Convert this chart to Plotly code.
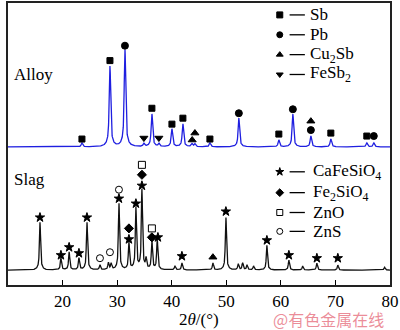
import numpy as np
import plotly.graph_objects as go

# ---------------- data ----------------
# Alloy pattern: peak positions (2theta) and heights above baseline (arb. units)
alloy_peak_pos = [23.55, 28.68, 31.43, 34.9, 36.37, 37.65, 40.04, 42.05, 43.7, 44.25,
                  47.0, 52.3, 59.63, 62.2, 65.5, 69.16, 75.75, 77.03]
alloy_peak_h = [4, 81, 98, 3, 33, 3, 18, 23, 3, 3,
                4, 29, 7, 33, 11, 8, 4, 4]
alloy_base = 139

# Slag pattern
slag_peak_pos = [15.86, 19.7, 21.2, 23.0, 24.47, 26.85, 28.4, 28.9, 30.33, 32.16, 33.44,
                 34.54, 35.3, 36.37, 37.35, 40.6, 41.87, 47.55, 49.93, 52.2, 53.0, 53.8,
                 55.0, 57.44, 61.47, 64.0, 66.6, 70.44, 79.0]
slag_peak_h = [48, 12, 18, 12, 48, 5, 7, 6, 67, 27, 62,
               80, 10, 28, 30, 4, 7, 7, 53, 6, 7, 5,
               4, 25, 10, 4, 7, 5, 3]
slag_base = 15

# Phase markers (2theta, height)
sb_x = [23.55, 28.68, 36.37, 40.04, 42.05, 47.0, 59.63, 69.16, 75.75]
sb_y = [147, 226, 178, 162, 168, 147, 152, 153, 150]
pb_x = [31.43, 52.3, 62.2, 65.5, 77.03]
pb_y = [241, 173, 177, 156, 150]
cu2sb_x = [43.75, 44.25, 65.5, 47.55]
cu2sb_y = [146, 153, 165, 28]
fesb2_x = [34.9, 37.65]
fesb2_y = [148, 148]

cafesio4_x = [15.86, 19.7, 21.2, 23.0, 24.47, 30.33, 32.16, 33.44, 34.54, 37.47,
              41.87, 49.93, 57.44, 61.47, 66.6, 70.44]
cafesio4_y = [68, 30, 38, 32, 68, 87, 46, 82, 100, 48,
              29, 74, 45, 30, 27, 27]
fe2sio4_x = [32.16, 34.54, 36.37]
fe2sio4_y = [57, 111, 48]
zno_x = [34.54, 36.37]
zno_y = [121, 57]
zns_x = [26.85, 28.68, 30.33]
zns_y = [27, 33, 96]

alloy_legend = ["Sb", "Pb", "Cu<sub>2</sub>Sb", "FeSb<sub>2</sub>"]
alloy_legend_sym = ["square", "circle", "triangle-up", "triangle-down"]
alloy_legend_y = [272, 252, 232, 212]
slag_legend = ["CaFeSiO<sub>4</sub>", "Fe<sub>2</sub>SiO<sub>4</sub>", "ZnO", "ZnS"]
slag_legend_sym = ["star", "diamond", "square-open", "circle-open"]
slag_legend_y = [114, 93, 73, 54]

x_ticks = [10, 20, 30, 40, 50, 60, 70, 80]

# ---------------- build profiles ----------------
x = np.arange(10, 80.001, 0.02)


def profile(pos, h, base, w):
    y = np.full_like(x, float(base))
    for p, a in zip(pos, h):
        g = np.exp(-4 * np.log(2) * ((x - p) / w) ** 2)
        l = 1 / (1 + 4 * ((x - p) / (w * 2.2)) ** 2)
        y += a * (0.65 * g + 0.35 * l)
    return y


alloy_y = profile(alloy_peak_pos, alloy_peak_h, alloy_base, 0.28)
slag_y = profile(slag_peak_pos, slag_peak_h, slag_base, 0.22)

serif = "Liberation Serif, Times New Roman, serif"
fig = go.Figure()
fig.add_trace(go.Scatter(x=x, y=alloy_y, mode="lines",
                         line=dict(color="#1f1fe0", width=1.3), hoverinfo="skip"))
fig.add_trace(go.Scatter(x=x, y=slag_y, mode="lines",
                         line=dict(color="#111111", width=1.3), hoverinfo="skip"))


def mk(xs, ys, sym, size):
    fig.add_trace(go.Scatter(x=xs, y=ys, mode="markers",
                             marker=dict(symbol=sym, size=size, color="black",
                                         line=dict(color="black", width=1)),
                             hoverinfo="skip"))


mk(sb_x, sb_y, "square", 6)
mk(pb_x, pb_y, "circle", 7)
mk(cu2sb_x, cu2sb_y, "triangle-up", 7)
mk(fesb2_x, fesb2_y, "triangle-down", 7)
mk(cafesio4_x, cafesio4_y, "star", 7)
mk(fe2sio4_x, fe2sio4_y, "diamond", 7)
mk(zno_x, zno_y, "square-open", 7)
mk(zns_x, zns_y, "circle-open", 7)

# legends (marker, dash, text)
for names, syms, ys, tx in [(alloy_legend, alloy_legend_sym, alloy_legend_y, 64.9),
                            (slag_legend, slag_legend_sym, slag_legend_y, 65.6)]:
    for n, s, yy in zip(names, syms, ys):
        mk([59.8], [yy], s, 6)
        fig.add_shape(type="line", x0=61.6, x1=64.4, y0=yy, y1=yy,
                      line=dict(color="black", width=1.3))
        fig.add_annotation(x=tx, y=yy, text=n, showarrow=False, xanchor="left",
                           yanchor="middle", font=dict(family=serif, size=17, color="black"))

fig.add_annotation(x=10.8, y=212, text="Alloy", showarrow=False, xanchor="left",
                   yanchor="middle", font=dict(family=serif, size=17, color="black"))
fig.add_annotation(x=10.8, y=106, text="Slag", showarrow=False, xanchor="left",
                   yanchor="middle", font=dict(family=serif, size=17, color="black"))

fig.add_annotation(xref="paper", yref="paper", x=0.5, y=-0.123, text="2<i>θ</i>/(°)",
                   showarrow=False, xanchor="center", yanchor="middle",
                   font=dict(family=serif, size=17, color="black"))
fig.add_annotation(xref="paper", yref="paper", x=0.99, y=-0.1215, text="@有色金属在线",
                   showarrow=False, xanchor="right", yanchor="middle",
                   font=dict(family="Noto Sans CJK SC", size=16, color="rgba(232,120,135,0.85)"))

fig.update_layout(
    width=400, height=330,
    margin=dict(l=8, r=9, t=1, b=45),
    paper_bgcolor="white", plot_bgcolor="white",
    showlegend=False,
    font=dict(family=serif, size=17, color="black"),
    xaxis=dict(range=[10, 80], tickvals=x_ticks, ticks="inside", ticklen=5,
               tickwidth=1.2, tickcolor="black", showline=True, linecolor="#222",
               linewidth=1.5, mirror=True, showgrid=False, zeroline=False,
               tickfont=dict(family=serif, size=17, color="black")),
    yaxis=dict(range=[0, 284], showticklabels=False, ticks="", showline=True,
               linecolor="#222", linewidth=1.5, mirror=True, showgrid=False,
               zeroline=False),
)

fig.write_html("out.html")
